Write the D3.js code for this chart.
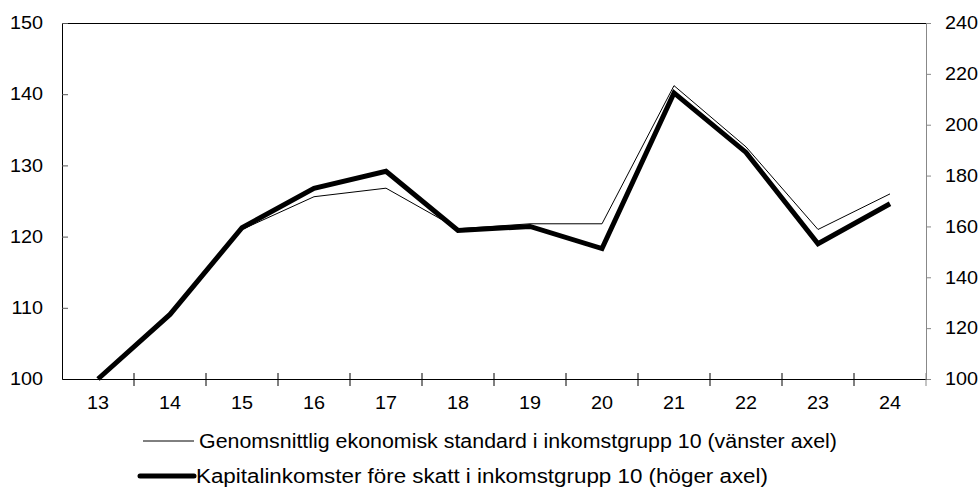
<!DOCTYPE html>
<html>
<head>
<meta charset="utf-8">
<script src="https://cdn.jsdelivr.net/npm/d3@7"></script>
<style>
  body { margin: 0; background: #fff; }
  text { font-family: "Liberation Sans", Arial, sans-serif; fill: #000; }
</style>
</head>
<body>
<div id="chart"></div>
<script>
// data
var years = ["13", "14", "15", "16", "17", "18", "19", "20", "21", "22", "23", "24"];
var standard = [100, 109.1, 121.0, 125.6, 126.8, 121.1, 121.8, 121.8, 141.2, 132.6, 121.0, 126.0];
var kapital = [100, 125.4, 159.5, 175.0, 181.7, 158.4, 160.0, 151.3, 212.5, 189.1, 153.2, 168.9];
var leftTicks = [100, 110, 120, 130, 140, 150];
var rightTicks = [100, 120, 140, 160, 180, 200, 220, 240];
var legendLabels = [
  "Genomsnittlig ekonomisk standard i inkomstgrupp 10 (vänster axel)",
  "Kapitalinkomster före skatt i inkomstgrupp 10 (höger axel)"
];

var margin = {top: 23, right: 54, bottom: 112, left: 62},
    width = 980 - margin.left - margin.right,
    height = 491 - margin.top - margin.bottom;

// the text in the picture is a bit wider than the font
var stretch = 1.1;

var svg = d3.select("#chart")
  .append("svg")
    .attr("width", 980)
    .attr("height", 491)
  .append("g")
    .attr("transform", "translate(" + margin.left + "," + margin.top + ")");

var x = d3.scaleBand().domain(years).range([0, width]);
var yL = d3.scaleLinear().domain([100, 150]).range([height, 0]);
var yR = d3.scaleLinear().domain([100, 240]).range([height, 0]);

// top border
svg.append("line")
  .attr("x1", 0).attr("x2", width)
  .attr("y1", 0.5).attr("y2", 0.5)
  .attr("stroke", "#000");

// left axis, ticks pointing inwards
var gl = svg.append("g")
  .call(d3.axisLeft(yL).tickValues(leftTicks).tickSize(-6));
gl.select(".domain").attr("stroke", "#000");
gl.selectAll(".tick line").attr("stroke", "#555");
gl.selectAll("text")
  .attr("font-size", "18px").attr("fill", "#000")
  .attr("x", -19 / stretch)
  .attr("transform", "scale(" + stretch + ",1)");

// right axis, grey
var gr = svg.append("g")
  .attr("transform", "translate(" + width + ",0)")
  .call(d3.axisRight(yR).tickValues(rightTicks).tickSize(5));
gr.select(".domain").attr("stroke", "#888");
gr.selectAll(".tick line").attr("stroke", "#888");
gr.selectAll("text")
  .attr("font-size", "18px").attr("fill", "#000")
  .attr("x", 19 / stretch)
  .attr("transform", "scale(" + stretch + ",1)");

// x axis with ticks between the categories
var gx = svg.append("g")
  .attr("transform", "translate(0," + height + ")")
  .call(d3.axisBottom(x).tickSize(0).tickPadding(17));
gx.select(".domain").attr("stroke", "#000");
gx.selectAll("text")
  .attr("font-size", "18px").attr("fill", "#000")
  .attr("transform", "scale(" + stretch + ",1)");
gx.selectAll(".sep")
  .data(years.slice(1).concat(["end"]))
  .enter().append("line")
    .attr("class", "sep")
    .attr("x1", function(d, i) { return i < years.length - 1 ? x(d) : width; })
    .attr("x2", function(d, i) { return i < years.length - 1 ? x(d) : width; })
    .attr("y1", -6).attr("y2", 7)
    .attr("stroke", function(d, i) { return i < years.length - 1 ? "#000" : "#888"; });

var lineL = d3.line()
  .x(function(d, i) { return x(years[i]) + x.bandwidth() / 2; })
  .y(function(d) { return yL(d); });
var lineR = d3.line()
  .x(function(d, i) { return x(years[i]) + x.bandwidth() / 2; })
  .y(function(d) { return yR(d); });

svg.append("path")
  .datum(standard)
  .attr("d", lineL)
  .attr("fill", "none")
  .attr("stroke", "#000")
  .attr("stroke-width", 1);

svg.append("path")
  .datum(kapital)
  .attr("d", lineR)
  .attr("fill", "none")
  .attr("stroke", "#000")
  .attr("stroke-width", 5)
  .attr("stroke-linejoin", "miter");

// legend
var legend = d3.select("svg").append("g");
var legendY = [441, 476];
var legendW = [1, 5];
var legendTextW = [638, 572];
legend.selectAll("line")
  .data(legendLabels)
  .enter().append("line")
    .attr("x1", function(d, i) { return i == 0 ? 143 : 140; })
    .attr("x2", 194)
    .attr("y1", function(d, i) { return legendY[i]; })
    .attr("y2", function(d, i) { return legendY[i]; })
    .attr("stroke", "#000")
    .attr("stroke-width", function(d, i) { return legendW[i]; })
    .attr("stroke-linecap", function(d, i) { return i == 0 ? "butt" : "round"; });
legend.selectAll("text")
  .data(legendLabels)
  .enter().append("text")
    .attr("x", function(d, i) { return i == 0 ? 199 : 196; })
    .attr("y", function(d, i) { return legendY[i] + 7; })
    .attr("font-size", "19.5px")
    .attr("textLength", function(d, i) { return legendTextW[i]; })
    .attr("lengthAdjust", "spacingAndGlyphs")
    .text(function(d) { return d; });
</script>
</body>
</html>
